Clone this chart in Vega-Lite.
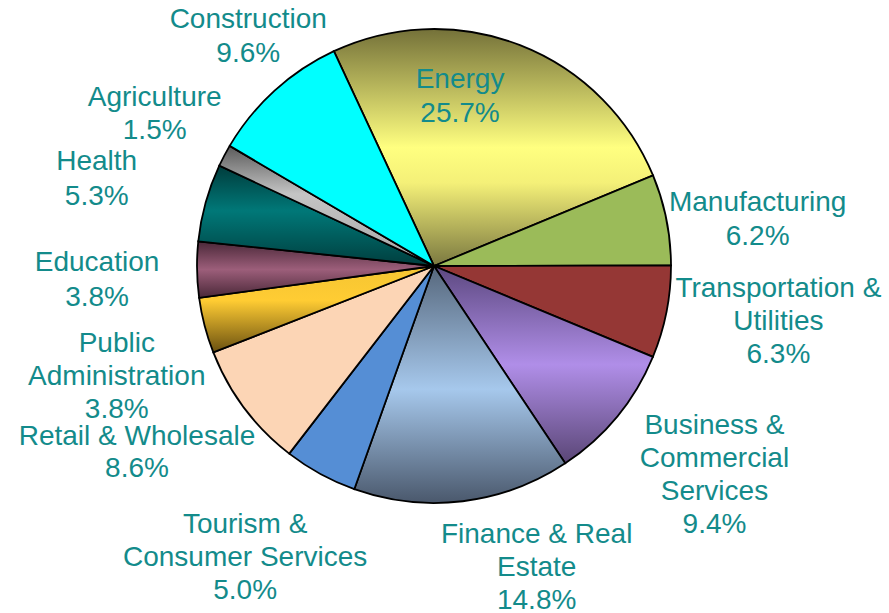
{
  "$schema": "https://vega.github.io/schema/vega-lite/v6.json",
  "width": 868,
  "height": 532,
  "autosize": "none",
  "padding": {"left": 0, "top": 0, "right": 21, "bottom": 81},
  "background": "white",
  "config": {"view": {"stroke": null}},
  "data": {
    "values": [
      {"sector": "Energy", "value": 25.7, "order": 1, "label": ["Energy", "25.7%"]},
      {"sector": "Manufacturing", "value": 6.2, "order": 2, "label": ["Manufacturing", "6.2%"]},
      {"sector": "Transportation & Utilities", "value": 6.3, "order": 3, "label": ["Transportation &", "Utilities", "6.3%"]},
      {"sector": "Business & Commercial Services", "value": 9.4, "order": 4, "label": ["Business &", "Commercial", "Services", "9.4%"]},
      {"sector": "Finance & Real Estate", "value": 14.8, "order": 5, "label": ["Finance & Real", "Estate", "14.8%"]},
      {"sector": "Tourism & Consumer Services", "value": 5.0, "order": 6, "label": ["Tourism &", "Consumer Services", "5.0%"]},
      {"sector": "Retail & Wholesale", "value": 8.6, "order": 7, "label": ["Retail & Wholesale", "8.6%"]},
      {"sector": "Public Administration", "value": 3.8, "order": 8, "label": ["Public", "Administration", "3.8%"]},
      {"sector": "Education", "value": 3.8, "order": 9, "label": ["Education", "3.8%"]},
      {"sector": "Health", "value": 5.3, "order": 10, "label": ["Health", "5.3%"]},
      {"sector": "Agriculture", "value": 1.5, "order": 11, "label": ["Agriculture", "1.5%"]},
      {"sector": "Construction", "value": 9.6, "order": 12, "label": ["Construction", "9.6%"]}
    ]
  },
  "transform": [
    {"stack": "value", "groupby": [], "sort": [{"field": "order", "order": "ascending"}], "as": ["v0", "v1"]},
    {"calculate": "(datum.v0 + datum.v1) / 2", "as": "mid"}
  ],
  "layer": [
    {
      "mark": {"type": "arc", "outerRadius": 237, "stroke": "black", "strokeWidth": 1.8},
      "encoding": {
        "theta": {"field": "v0", "type": "quantitative", "scale": {"domain": [0, 100], "range": [-0.436, 5.847]}},
        "theta2": {"field": "v1"},
        "fill": {
          "condition": [
            {"test": "datum.sector === 'Energy'", "value": {"gradient": "linear", "x1": 0, "y1": 0, "x2": 0, "y2": 1, "stops": [{"offset": 0, "color": "#747139"}, {"offset": 0.5, "color": "#ffff80"}, {"offset": 0.65, "color": "#f4f078"}, {"offset": 1, "color": "#7a7840"}]}},
            {"test": "datum.sector === 'Business & Commercial Services'", "value": {"gradient": "linear", "x1": 0, "y1": 0, "x2": 0, "y2": 1, "stops": [{"offset": 0, "color": "#5c4880"}, {"offset": 0.5, "color": "#b08ee8"}, {"offset": 1, "color": "#5a4676"}]}},
            {"test": "datum.sector === 'Finance & Real Estate'", "value": {"gradient": "linear", "x1": 0, "y1": 0, "x2": 0, "y2": 1, "stops": [{"offset": 0, "color": "#56677c"}, {"offset": 0.52, "color": "#a6c8ec"}, {"offset": 1, "color": "#4a586c"}]}},
            {"test": "datum.sector === 'Public Administration'", "value": {"gradient": "linear", "x1": 0, "y1": 0, "x2": 0, "y2": 1, "stops": [{"offset": 0, "color": "#f5c532"}, {"offset": 0.4, "color": "#ffcc33"}, {"offset": 1, "color": "#6a5010"}]}},
            {"test": "datum.sector === 'Education'", "value": {"gradient": "linear", "x1": 0, "y1": 0, "x2": 0, "y2": 1, "stops": [{"offset": 0, "color": "#4a2838"}, {"offset": 0.5, "color": "#9c5e7a"}, {"offset": 1, "color": "#4a2838"}]}},
            {"test": "datum.sector === 'Health'", "value": {"gradient": "linear", "x1": 0, "y1": 0, "x2": 0, "y2": 1, "stops": [{"offset": 0, "color": "#003c3c"}, {"offset": 0.45, "color": "#007878"}, {"offset": 1, "color": "#003e3e"}]}},
            {"test": "datum.sector === 'Agriculture'", "value": {"gradient": "linear", "x1": 0, "y1": 0, "x2": 0, "y2": 1, "stops": [{"offset": 0, "color": "#5a5a5a"}, {"offset": 0.4, "color": "#c4c4c4"}, {"offset": 1, "color": "#a8a8a8"}]}}
          ],
          "field": "sector",
          "type": "nominal",
          "legend": null,
          "scale": {
            "domain": ["Energy", "Manufacturing", "Transportation & Utilities", "Business & Commercial Services", "Finance & Real Estate", "Tourism & Consumer Services", "Retail & Wholesale", "Public Administration", "Education", "Health", "Agriculture", "Construction"],
            "range": ["#e8e870", "#9bbb59", "#953735", "#a080d0", "#90b0d0", "#558ed5", "#fcd5b5", "#ffcc33", "#9c5e7a", "#007878", "#c0c0c0", "#00ffff"]
          }
        }
      }
    },
    {
      "transform": [{"filter": "datum.sector === 'Energy'"}],
      "mark": {"type": "text", "font": "Liberation Sans", "fontSize": 28, "lineHeight": 34, "color": "#138b8b", "align": "center", "baseline": "middle", "dx": -36, "dy": -27},
      "encoding": {"theta": {"field": "mid", "type": "quantitative", "stack": null}, "radius": {"value": 171}, "text": {"field": "label"}}
    },
    {
      "transform": [{"filter": "datum.sector === 'Manufacturing'"}],
      "mark": {"type": "text", "font": "Liberation Sans", "fontSize": 28, "lineHeight": 34, "color": "#138b8b", "align": "center", "baseline": "middle", "dx": 2, "dy": 1},
      "encoding": {"theta": {"field": "mid", "type": "quantitative", "stack": null}, "radius": {"value": 328}, "text": {"field": "label"}}
    },
    {
      "transform": [{"filter": "datum.sector === 'Transportation & Utilities'"}],
      "mark": {"type": "text", "font": "Liberation Sans", "fontSize": 28, "lineHeight": 33, "color": "#138b8b", "align": "center", "baseline": "middle", "dx": 3, "dy": -45},
      "encoding": {"theta": {"field": "mid", "type": "quantitative", "stack": null}, "radius": {"value": 348}, "text": {"field": "label"}}
    },
    {
      "transform": [{"filter": "datum.sector === 'Business & Commercial Services'"}],
      "mark": {"type": "text", "font": "Liberation Sans", "fontSize": 28, "lineHeight": 33, "color": "#138b8b", "align": "center", "baseline": "middle", "dx": 11, "dy": -62},
      "encoding": {"theta": {"field": "mid", "type": "quantitative", "stack": null}, "radius": {"value": 349}, "text": {"field": "label"}}
    },
    {
      "transform": [{"filter": "datum.sector === 'Finance & Real Estate'"}],
      "mark": {"type": "text", "font": "Liberation Sans", "fontSize": 28, "lineHeight": 33, "color": "#138b8b", "align": "center", "baseline": "middle", "dx": 64, "dy": -47},
      "encoding": {"theta": {"field": "mid", "type": "quantitative", "stack": null}, "radius": {"value": 318}, "text": {"field": "label"}}
    },
    {
      "transform": [{"filter": "datum.sector === 'Tourism & Consumer Services'"}],
      "mark": {"type": "text", "font": "Liberation Sans", "fontSize": 28, "lineHeight": 33, "color": "#138b8b", "align": "center", "baseline": "middle", "dx": -22, "dy": -46},
      "encoding": {"theta": {"field": "mid", "type": "quantitative", "stack": null}, "radius": {"value": 348}, "text": {"field": "label"}}
    },
    {
      "transform": [{"filter": "datum.sector === 'Retail & Wholesale'"}],
      "mark": {"type": "text", "font": "Liberation Sans", "fontSize": 28, "lineHeight": 32, "color": "#138b8b", "align": "center", "baseline": "middle", "dx": -17, "dy": -39},
      "encoding": {"theta": {"field": "mid", "type": "quantitative", "stack": null}, "radius": {"value": 350}, "text": {"field": "label"}}
    },
    {
      "transform": [{"filter": "datum.sector === 'Public Administration'"}],
      "mark": {"type": "text", "font": "Liberation Sans", "fontSize": 28, "lineHeight": 33, "color": "#138b8b", "align": "center", "baseline": "middle", "dx": 8, "dy": -6},
      "encoding": {"theta": {"field": "mid", "type": "quantitative", "stack": null}, "radius": {"value": 336}, "text": {"field": "label"}}
    },
    {
      "transform": [{"filter": "datum.sector === 'Education'"}],
      "mark": {"type": "text", "font": "Liberation Sans", "fontSize": 28, "lineHeight": 35, "color": "#138b8b", "align": "center", "baseline": "middle", "dx": 0, "dy": -8},
      "encoding": {"theta": {"field": "mid", "type": "quantitative", "stack": null}, "radius": {"value": 337}, "text": {"field": "label"}}
    },
    {
      "transform": [{"filter": "datum.sector === 'Health'"}],
      "mark": {"type": "text", "font": "Liberation Sans", "fontSize": 28, "lineHeight": 35, "color": "#138b8b", "align": "center", "baseline": "middle", "dx": -1, "dy": -11},
      "encoding": {"theta": {"field": "mid", "type": "quantitative", "stack": null}, "radius": {"value": 349}, "text": {"field": "label"}}
    },
    {
      "transform": [{"filter": "datum.sector === 'Agriculture'"}],
      "mark": {"type": "text", "font": "Liberation Sans", "fontSize": 28, "lineHeight": 33, "color": "#138b8b", "align": "center", "baseline": "middle", "dx": 3, "dy": -19},
      "encoding": {"theta": {"field": "mid", "type": "quantitative", "stack": null}, "radius": {"value": 319}, "text": {"field": "label"}}
    },
    {
      "transform": [{"filter": "datum.sector === 'Construction'"}],
      "mark": {"type": "text", "font": "Liberation Sans", "fontSize": 28, "lineHeight": 34, "color": "#138b8b", "align": "center", "baseline": "middle", "dx": 14, "dy": -26},
      "encoding": {"theta": {"field": "mid", "type": "quantitative", "stack": null}, "radius": {"value": 297}, "text": {"field": "label"}}
    }
  ]
}
